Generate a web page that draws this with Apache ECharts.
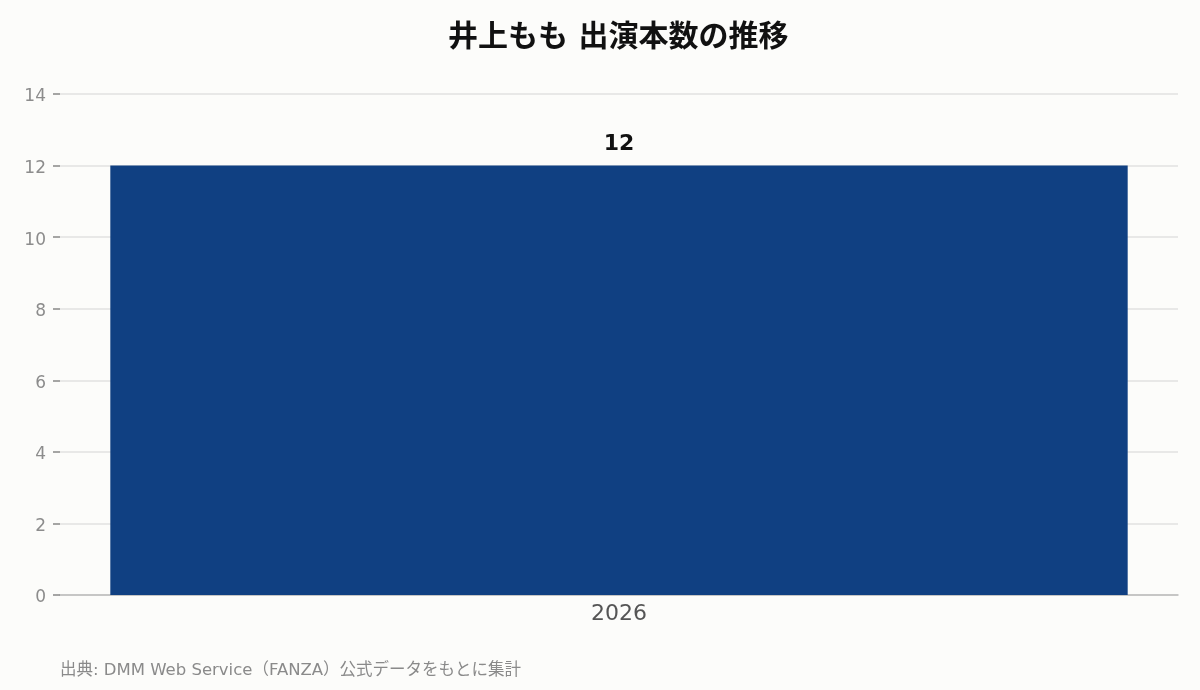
<!DOCTYPE html>
<html>
<head>
<meta charset="utf-8">
<script src="https://cdn.jsdelivr.net/npm/echarts@6/dist/echarts.min.js"></script>
<style>
  html, body { margin: 0; padding: 0; background: #fcfcfa; }
  #chart { width: 1200px; height: 690px; }
</style>
</head>
<body>
<div id="chart"></div>
<script>
var years = ['2026'];
var counts = [12];
var yTicks = [0, 2, 4, 6, 8, 10, 12, 14];

var FONT = '"DejaVu Sans", "Noto Sans CJK JP", sans-serif';

var chart = echarts.init(document.getElementById('chart'));
var option = {
    backgroundColor: '#fcfcfa',
    textStyle: { fontFamily: FONT },
    title: {
        text: '井上もも 出演本数の推移',
        left: 443,
        top: 18,
        textStyle: { fontSize: 30, fontWeight: 'bold', color: '#111', fontFamily: FONT }
    },
    graphic: [{
        type: 'text',
        left: 60,
        top: 662,
        style: {
            text: '出典: DMM Web Service（FANZA）公式データをもとに集計',
            fill: '#8a8a8a',
            font: '16.5px ' + FONT
        }
    }],
    grid: { left: 60, right: 22, top: 94, bottom: 95, containLabel: false },
    xAxis: {
        type: 'category',
        data: years,
        axisTick: { show: false },
        axisLine: { lineStyle: { color: '#bbbbbb', width: 1.5 } },
        axisLabel: { fontSize: 22, color: '#555', margin: 8 }
    },
    yAxis: {
        type: 'value',
        min: yTicks[0],
        max: yTicks[yTicks.length - 1],
        interval: 2,
        axisLine: { show: false },
        axisTick: { show: true, length: 7, lineStyle: { color: '#888', width: 1.5 } },
        axisLabel: { fontSize: 17, color: '#8c8c8c', margin: 14, verticalAlign: 'top', lineHeight: 6 },
        splitLine: { lineStyle: { color: '#e2e2e0', width: 1.5 } }
    },
    series: [{
        type: 'bar',
        data: counts,
        barWidth: '91%',
        itemStyle: { color: '#104082' },
        label: {
            show: true,
            position: 'top',
            distance: 10,
            fontSize: 22,
            fontWeight: 'bold',
            color: '#111'
        }
    }]
};
chart.setOption(option);
</script>
</body>
</html>
